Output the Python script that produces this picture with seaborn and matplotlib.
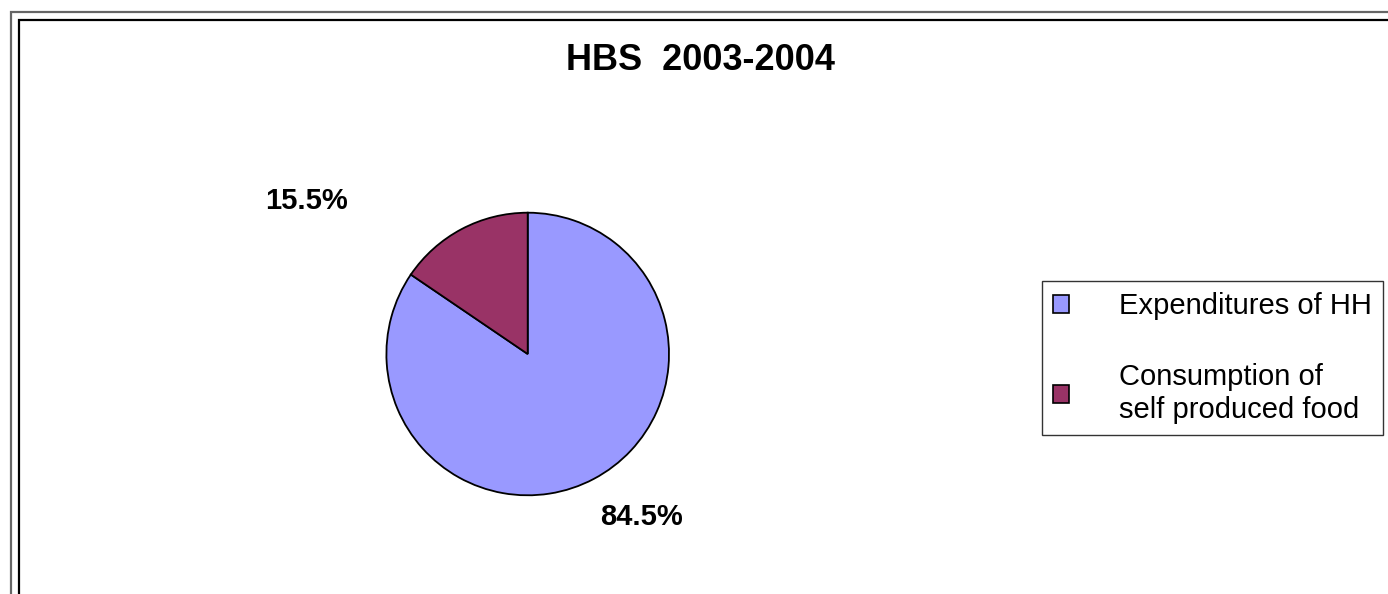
import matplotlib
matplotlib.use('Agg')
import matplotlib.pyplot as plt
import matplotlib.patches as mpatches
import seaborn as sns

# dados
categorias = ['Expenditures of HH', 'Consumption of\nself produced food']
valores = [84.5, 15.5]
cores = ['#9999FF', '#993366']
titulo = 'HBS  2003-2004'

sns.set_style('white')
plt.rcParams['font.family'] = ['Liberation Sans', 'DejaVu Sans']
plt.rcParams['text.color'] = 'black'

W, H = 1388, 594
fig = plt.figure(figsize=(W / 100, H / 100), dpi=100)

# molduras (esquerda e topo)
fig.patches.append(mpatches.Rectangle((10.5 / W, -0.1), 2, 1 - 11.5 / H + 0.1,
                                      transform=fig.transFigure, fill=False,
                                      edgecolor='#666666', linewidth=1.6))
fig.patches.append(mpatches.Rectangle((18.5 / W, -0.1), 2, 1 - 20 / H + 0.1,
                                      transform=fig.transFigure, fill=False,
                                      edgecolor='black', linewidth=1.6))

# pizza
cx, cy, r = 527.7, 354, 141.3
ax = fig.add_axes([(cx - r) / W, (H - cy - r) / H, 2 * r / W, 2 * r / H])
wedges, _ = ax.pie(valores, colors=cores, startangle=90, counterclock=False,
                   wedgeprops=dict(edgecolor='black', linewidth=1.3))
ax.set_xlim(-1, 1)
ax.set_ylim(-1, 1)
ax.axis('off')

# rótulos percentuais
pos_rotulos = [(0.802, -1.154), (-1.562, 1.083)]
for v, (x, y) in zip(valores, pos_rotulos):
    ax.text(x, y, f'{v:.1f}%', ha='center', va='center', fontsize=21,
            fontweight='bold', color='black', clip_on=False)

fig.text(701 / W, 1 - 60 / H, titulo, ha='center', va='center',
         fontsize=26, fontweight='bold', color='black')

leg = fig.legend(wedges, categorias, loc='upper left',
                 bbox_to_anchor=(1042 / W, 1 - 281 / H), bbox_transform=fig.transFigure,
                 borderaxespad=0, fontsize=21, frameon=True, fancybox=False,
                 handlelength=0.55, handleheight=0.55, handletextpad=1.72,
                 labelspacing=1.48, borderpad=0.38, labelcolor='black')
leg.get_frame().set_edgecolor('#333333')
leg.get_frame().set_linewidth(1.0)
leg.get_frame().set_alpha(1)
for h in leg.legend_handles:
    h.set_edgecolor('black')
    h.set_linewidth(1.2)

plt.savefig('out.png', dpi=100)
